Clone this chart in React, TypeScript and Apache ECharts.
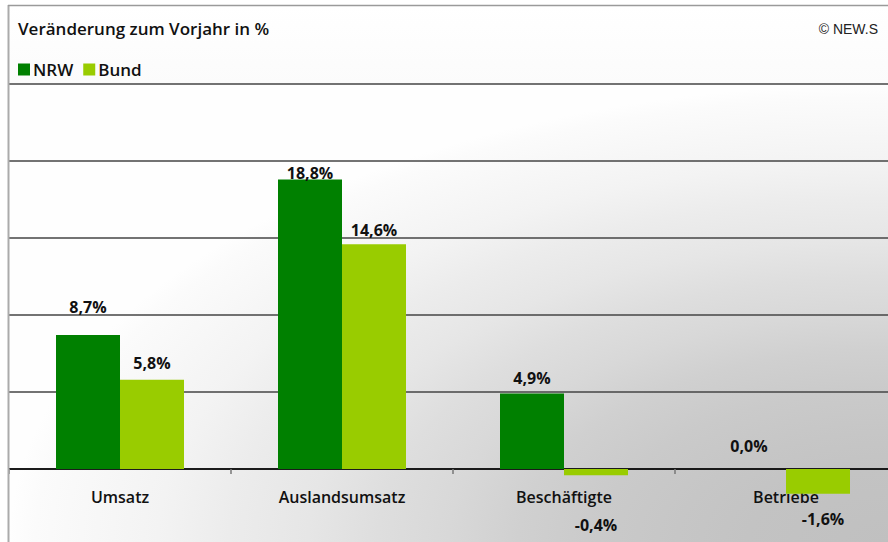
import React, { useEffect, useRef } from "react";
import * as echarts from "echarts";

const categories = ["Umsatz", "Auslandsumsatz", "Beschäftigte", "Betriebe"];
const nrwValues = [8.7, 18.8, 4.9, 0.0];
const bundValues = [5.8, 14.6, -0.4, -1.6];
const seriesNames = ["NRW", "Bund"];
const yMin = -5;
const yMax = 25;
const yStep = 5;
const chartTitle = "Veränderung zum Vorjahr in %";
const copyright = "© NEW.S";

const fmt = (v: number) => v.toFixed(1).replace(".", ",") + "%";

const FONT = "'Open Sans', 'DejaVu Sans', sans-serif";

// label placement tweaks (distance from bar end, horizontal nudge)
const nrwLabelDist = [20, -1.5, 7.5, 15];
const nrwLabelDx = [0, 0, 0, -5];
const bundLabelDist = [8.7, 6.2, 42, 17];
const bundLabelDx = [0, 0, 0, 5];

export default function App() {
  const ref = useRef<HTMLDivElement>(null);
  useEffect(() => {
    if (!ref.current) return;
    const chart = echarts.init(ref.current, undefined, { renderer: "svg" });

    const plotLeft = 9;
    const plotRight = 888;
    const plotTop = 84;
    const plotBottom = 542;
    const rx = plotRight - plotLeft;
    const ry = plotBottom - plotTop;

    const radial = new echarts.graphic.RadialGradient(
      1,
      1,
      1,
      [
        { offset: 0, color: "#c0c0c0" },
        { offset: 0.16, color: "#c3c3c3" },
        { offset: 0.24, color: "#c6c6c6" },
        { offset: 0.33, color: "#cacaca" },
        { offset: 0.42, color: "#d0d0d0" },
        { offset: 0.5, color: "#d8d8d8" },
        { offset: 0.58, color: "#dedede" },
        { offset: 0.66, color: "#e6e6e6" },
        { offset: 0.75, color: "#ececec" },
        { offset: 0.83, color: "#f3f3f3" },
        { offset: 0.97, color: "#fbfbfb" },
        { offset: 1, color: "#fefefe" },
      ],
      false
    );

    const mkLabel = (v: number, dist: number, dx: number) => ({
      show: true,
      position: v < 0 ? "bottom" : "top",
      distance: dist,
      offset: [dx, 0],
      formatter: () => fmt(v),
      fontFamily: FONT,
      fontWeight: 700,
      fontSize: 16,
      color: "#111",
    });

    chart.setOption({
      animation: false,
      backgroundColor: "#ffffff",
      title: {
        text: chartTitle,
        left: 13,
        top: 15,
        textStyle: {
          fontFamily: FONT,
          fontWeight: 600,
          fontSize: 17,
          color: "#111",
        },
      },
      legend: {
        data: seriesNames,
        left: 13,
        top: 56,
        icon: "rect",
        itemWidth: 12,
        itemHeight: 12,
        itemGap: 10,
        textStyle: {
          fontFamily: FONT,
          fontWeight: 600,
          fontSize: 17,
          color: "#111",
          padding: [0, 0, 0, -2],
        },
      },
      graphic: {
        elements: [
          {
            type: "rect",
            z: -100,
            silent: true,
            shape: { x: plotLeft, y: 5, width: rx, height: plotTop - 5 },
            style: {
              fill: new echarts.graphic.LinearGradient(0, 0, 0, 1, [
                { offset: 0, color: "#ffffff" },
                { offset: 1, color: "#fbfbfb" },
              ]),
            },
          },
          {
            type: "rect",
            z: -100,
            silent: true,
            shape: { x: plotLeft, y: plotTop, width: rx, height: ry },
            style: { fill: radial },
          },
          {
            type: "line",
            z: 50,
            silent: true,
            shape: { x1: 8.5, y1: 5, x2: 8.5, y2: 542 },
            style: { stroke: "#ababab", lineWidth: 2 },
          },
          {
            type: "line",
            z: 50,
            silent: true,
            shape: { x1: 8, y1: 5.5, x2: 888, y2: 5.5 },
            style: { stroke: "#9a9a9a", lineWidth: 1.5 },
          },
          {
            type: "text",
            z: 50,
            silent: true,
            x: 878,
            y: 29,
            style: {
              text: copyright,
              align: "right",
              verticalAlign: "middle",
              fontFamily: "'Liberation Sans', Arial, sans-serif",
              fontSize: 14,
              fill: "#222",
            },
          },
        ],
      },
      grid: {
        left: 9,
        right: -9,
        top: plotTop,
        bottom: -4,
        containLabel: false,
        outerBoundsMode: "none",
      },
      xAxis: {
        type: "category",
        data: categories,
        axisLine: { show: true, onZero: true, lineStyle: { color: "#000", width: 1.5 } },
        axisTick: { show: true, length: 5, lineStyle: { color: "#777", width: 1.5 } },
        axisLabel: {
          margin: -57,
          fontFamily: FONT,
          fontWeight: 600,
          fontSize: 16,
          color: "#111",
        },
        splitLine: { show: false },
      },
      yAxis: {
        type: "value",
        min: yMin,
        max: yMax,
        interval: yStep,
        axisLine: { show: false },
        axisTick: { show: false },
        axisLabel: { show: false },
        splitLine: { show: true, lineStyle: { color: "#454545", width: 1.5 } },
      },
      series: [
        {
          name: seriesNames[0],
          type: "bar",
          barWidth: 64,
          barGap: "0%",
          itemStyle: { color: "#008000" },
          data: nrwValues.map((v, i) => ({
            value: v,
            label: mkLabel(v, nrwLabelDist[i], nrwLabelDx[i]),
          })),
        },
        {
          name: seriesNames[1],
          type: "bar",
          barWidth: 64,
          barGap: "0%",
          itemStyle: { color: "#99cc00" },
          data: bundValues.map((v, i) => ({
            value: v,
            label: mkLabel(v, bundLabelDist[i], bundLabelDx[i]),
          })),
        },
      ],
    });
    return () => chart.dispose();
  }, []);

  return (
    <div
      ref={ref}
      style={{ position: "fixed", left: 0, top: 0, width: 888, height: 542 }}
    />
  );
}
